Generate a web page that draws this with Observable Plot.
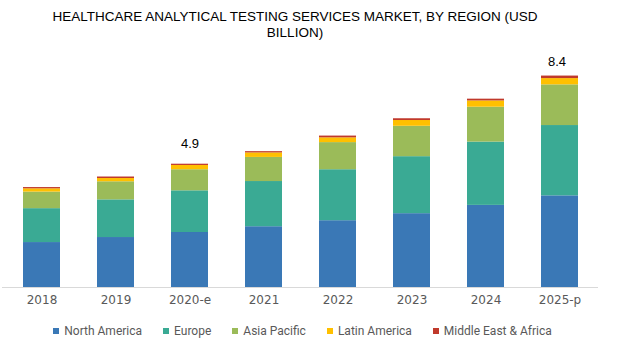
<!DOCTYPE html>
<html>
<head>
<meta charset="utf-8">
<script src="https://cdn.jsdelivr.net/npm/d3@7"></script>
<script src="https://cdn.jsdelivr.net/npm/@observablehq/plot@0.6"></script>
<style>
  html, body { margin: 0; padding: 0; background: #fff; }
  #wrap { position: relative; width: 620px; height: 359px; overflow: hidden; }
  #title { width: 590px; height: 45px; box-sizing: border-box; padding-top: 9px; text-align: center;
    font-family: "Liberation Sans", Arial, sans-serif; font-size: 13.5px; line-height: 16px; color: #000; }
  #chart { position: absolute; left: 0; top: 45px; }
  #legend { position: absolute; left: 0; top: 324px; width: 605px; height: 14px; display: flex; justify-content: center;
    font-family: Roboto, sans-serif; font-size: 12px; line-height: 14px; color: #595959; }
  .item { display: flex; align-items: center; margin: 0 10.5px; }
  .sw { width: 6px; height: 6px; margin-right: 5px; }
  svg { display: block; }
</style>
</head>
<body>
<div id="wrap">
  <div id="title">HEALTHCARE ANALYTICAL TESTING SERVICES MARKET, BY REGION (USD<br>BILLION)</div>
  <div id="chart"></div>
  <div id="legend"></div>
</div>
<script>
const years = ["2018", "2019", "2020-e", "2021", "2022", "2023", "2024", "2025-p"];
const regions = ["North America", "Europe", "Asia Pacific", "Latin America", "Middle East & Africa"];
const colors = ["#3A78B6", "#3AAA94", "#9BBB59", "#FFC000", "#C0392B"];
const northAmerica = [1.79, 1.99, 2.19, 2.42, 2.66, 2.94, 3.27, 3.65];
const europe = [1.35, 1.50, 1.66, 1.80, 2.03, 2.27, 2.52, 2.80];
const asiaPacific = [0.66, 0.72, 0.84, 0.96, 1.08, 1.21, 1.39, 1.62];
const latinAmerica = [0.13, 0.13, 0.17, 0.18, 0.19, 0.23, 0.25, 0.25];
const middleEastAfrica = [0.05, 0.06, 0.05, 0.05, 0.07, 0.07, 0.07, 0.10];
const labelYears = ["2020-e", "2025-p"];
const labelTexts = ["4.9", "8.4"];

const series = [northAmerica, europe, asiaPacific, latinAmerica, middleEastAfrica];
const rows = [];
years.forEach((yr, i) => regions.forEach((r, j) => rows.push({year: yr, region: r, value: series[j][i]})));
const totals = years.map((yr, i) => series.reduce((s, arr) => s + arr[i], 0));
const labels = labelYears.map((yr, k) => ({year: yr, total: totals[years.indexOf(yr)], text: labelTexts[k]}));

const chart = Plot.plot({
  width: 620,
  height: 271,
  marginTop: 16,
  marginBottom: 29,
  marginLeft: 2,
  marginRight: 22,
  style: {fontFamily: "DejaVu Sans, sans-serif", fontSize: "12px", background: "#fff"},
  x: {domain: years, paddingInner: 0.5, paddingOuter: 0.25, label: null, tickSize: 0, tickPadding: 8},
  y: {domain: [0, 9], axis: null},
  color: {domain: regions, range: colors},
  marks: [
    Plot.barY(rows, {x: "year", y: "value", fill: "region"}),
    Plot.ruleY([0], {stroke: "#d9d9d9", strokeWidth: 1}),
    Plot.axisX({tickSize: 0, tickPadding: 8, fill: "#595959", fontSize: 12, label: null}),
    Plot.text(labels.filter(d => d.year === "2020-e"), {x: "year", y: "total", text: "text", dy: -20, fill: "#000", fontSize: 13, fontFamily: "Liberation Sans, Arial, sans-serif"}),
    Plot.text(labels.filter(d => d.year === "2025-p"), {x: "year", y: "total", text: "text", dy: -14, dx: -3, fill: "#000", fontSize: 13, fontFamily: "Liberation Sans, Arial, sans-serif"})
  ]
});
document.getElementById("chart").appendChild(chart);

const legend = document.getElementById("legend");
regions.forEach((r, j) => {
  const it = document.createElement("div");
  it.className = "item";
  const sw = document.createElement("span");
  sw.className = "sw";
  sw.style.background = colors[j];
  const tx = document.createElement("span");
  tx.textContent = r;
  it.appendChild(sw);
  it.appendChild(tx);
  legend.appendChild(it);
});
</script>
</body>
</html>
